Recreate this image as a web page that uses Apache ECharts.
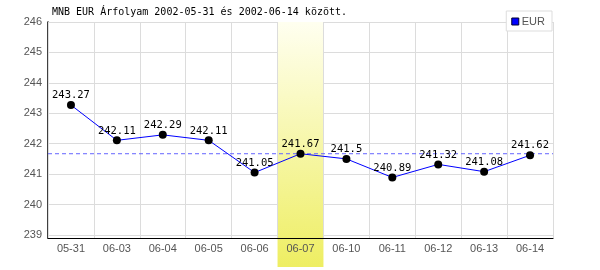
<!DOCTYPE html>
<html><head><meta charset="utf-8">
<script src="https://cdn.jsdelivr.net/npm/echarts@6/dist/echarts.min.js"></script>
<style>html,body{margin:0;padding:0;background:#fff}#c{width:600px;height:270px}</style>
</head><body><div id="c"></div>
<script>
const titleText = 'MNB EUR Árfolyam 2002-05-31 és 2002-06-14 között.';
const categories = ['05-31','06-03','06-04','06-05','06-06','06-07','06-10','06-11','06-12','06-13','06-14'];
const eurValues = [243.27,242.11,242.29,242.11,241.05,241.67,241.5,240.89,241.32,241.08,241.62];
const highlightCategory = '06-07';
const referenceValue = 241.67;
const yTickValues = [239,240,241,242,243,244,245,246];
const seriesName = 'EUR';

const bandData = categories.map(c => c === highlightCategory ? 1 : null);
const refData = [[0, referenceValue], [1, referenceValue]];
const refColor = '#6464ff';

const chart = echarts.init(document.getElementById('c'), null, {renderer:'canvas'});
chart.setOption({
  animation:false,
  backgroundColor:'#fff',
  title:{text:titleText,left:52,top:7,padding:0,
    textStyle:{fontFamily:'DejaVu Sans Mono',fontSize:10,fontWeight:'normal',color:'#000'}},
  legend:{data:[{name:seriesName,icon:'rect',itemStyle:{color:'#0000ff',borderColor:'#000033',borderWidth:1}}],
    right:48,top:11,padding:[5,7,4,5],itemWidth:7,itemHeight:7,itemGap:3,
    backgroundColor:'#fff',borderColor:'#dddddd',borderWidth:1,z:10,
    textStyle:{fontFamily:'Liberation Sans',fontSize:11,color:'#555',padding:[0,0,0,-2]}},
  grid:[
    {left:48,right:47,top:22,bottom:32},
    {left:48,right:47,top:22,bottom:3}
  ],
  xAxis:[
    {type:'category',data:categories,gridIndex:0,boundaryGap:true,z:3,
      axisLine:{show:true,lineStyle:{color:'#000',width:1.2}},
      axisTick:{show:false},
      axisLabel:{margin:5,fontFamily:'Liberation Sans',fontSize:11,color:'#555'},
      splitLine:{show:true,lineStyle:{color:'#dcdcdc',width:1}}},
    {type:'category',data:categories,gridIndex:1,show:false,boundaryGap:true},
    {type:'value',gridIndex:0,show:false,min:0,max:1}
  ],
  yAxis:[
    {type:'value',gridIndex:0,min:238.9,max:246,z:0,
      axisLine:{show:true,lineStyle:{color:'#000',width:1.5}},
      axisTick:{show:false,customValues:yTickValues},
      axisLabel:{customValues:yTickValues,margin:6,fontFamily:'Liberation Sans',fontSize:11,color:'#555'},
      splitLine:{show:true,lineStyle:{color:'#dcdcdc',width:1}}},
    {type:'value',gridIndex:1,show:false,min:0,max:1}
  ],
  series:[
    {type:'bar',xAxisIndex:1,yAxisIndex:1,data:bandData,barWidth:'100%',z:1,silent:true,
      itemStyle:{color:new echarts.graphic.LinearGradient(0,0,0,1,[{offset:0,color:'#fffff0'},{offset:1,color:'#eeee62'}])}},
    {name:'ref',type:'line',xAxisIndex:2,yAxisIndex:0,data:refData,z:3,silent:true,
      symbol:'none',lineStyle:{color:refColor,type:[4,3],width:1}},
    {name:seriesName,type:'line',data:eurValues,z:4,
      lineStyle:{color:'#0000ff',width:1},
      itemStyle:{color:'#000'},
      symbol:'circle',symbolSize:8,showAllSymbol:true,
      label:{show:true,position:'top',distance:0,fontFamily:'DejaVu Sans Mono',fontSize:10.5,color:'#000'}}
  ]
});
</script></body></html>
